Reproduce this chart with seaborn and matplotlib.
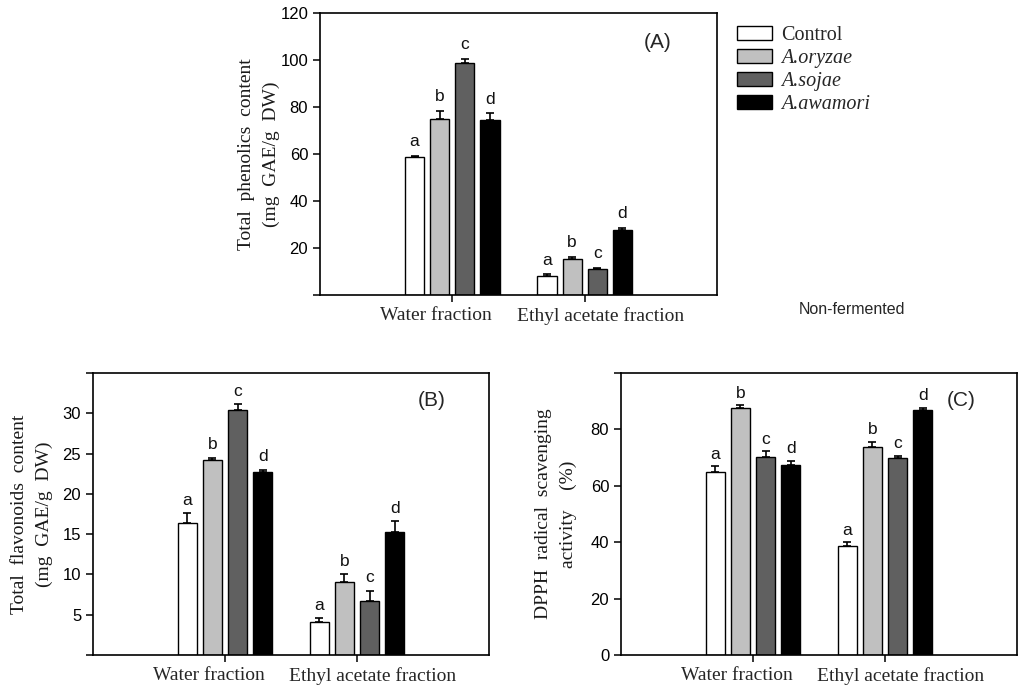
import matplotlib
matplotlib.use("Agg")
import matplotlib.pyplot as plt
from matplotlib.container import BarContainer
import seaborn as sns
import pandas as pd

# ---------------- data ----------------
fractions = ["Water fraction", "Ethyl acetate fraction"]
treatments = ["Control", "A.oryzae", "A.sojae", "A.awamori"]
letters = ["a", "b", "c", "d"]
bar_colors = ["#ffffff", "#c0c0c0", "#606060", "#000000"]

# (A) total phenolics
phen_water = [58.6, 75.0, 98.7, 74.4]
phen_water_err = [0.6, 3.4, 1.7, 2.9]
phen_ethyl = [8.2, 15.2, 11.1, 27.6]
phen_ethyl_err = [0.6, 1.0, 0.5, 1.0]

# (B) total flavonoids
flav_water = [16.4, 24.2, 30.4, 22.7]
flav_water_err = [1.2, 0.3, 0.7, 0.3]
flav_ethyl = [4.1, 9.0, 6.7, 15.3]
flav_ethyl_err = [0.5, 1.0, 1.3, 1.3]

# (C) DPPH
dpph_water = [64.9, 87.7, 70.3, 67.4]
dpph_water_err = [2.0, 0.9, 1.9, 1.4]
dpph_ethyl = [38.5, 73.9, 69.7, 86.8]
dpph_ethyl_err = [1.5, 1.6, 0.9, 0.9]

# ---------------- style ----------------
sns.set_style("ticks")
plt.rcParams["font.family"] = ["Liberation Sans", "DejaVu Sans"]
SERIF = ["Liberation Serif", "DejaVu Serif"]

fig = plt.figure(figsize=(10.24, 6.90), dpi=100)
W, H = 1024, 690


def add_axes(l, t, r, b):
    return fig.add_axes([l / W, 1 - b / H, (r - l) / W, (b - t) / H])


def make_df(water, ethyl):
    rows = []
    for f, vals in zip(fractions, [water, ethyl]):
        for t, v in zip(treatments, vals):
            rows.append({"fraction": f, "treatment": t, "value": v})
    return pd.DataFrame(rows)


def panel(ax, water, water_err, ethyl, ethyl_err, ymax, yticks, ylabels,
          ylabel, tag, tagpos, lab_x, letter_off, legend=False):
    df = make_df(water, ethyl)
    sns.barplot(data=df, x="fraction", y="value", hue="treatment",
                order=fractions, hue_order=treatments,
                palette=bar_colors, saturation=1, edgecolor="black",
                linewidth=1.0, width=0.76, gap=0.24, errorbar=None,
                legend=legend, ax=ax)
    errs = [water_err, ethyl_err]
    conts = [c for c in ax.containers if isinstance(c, BarContainer)]
    for hi, cont in enumerate(conts):
        for bar in list(cont):
            xc = bar.get_x() + bar.get_width() / 2
            fi = int(round(xc))
            h = bar.get_height()
            e = errs[fi][hi]
            ax.errorbar(xc, h, yerr=[[0], [e]], fmt="none", ecolor="black",
                        elinewidth=1.2, capsize=3.2, capthick=1.2, zorder=3)
            ax.annotate(letters[hi], (xc, h + e), xytext=(0, letter_off),
                        textcoords="offset points", ha="center",
                        va="baseline", fontsize=12.5, color="#111111")
    ax.set_xlim(-1, 2)
    ax.set_ylim(0, ymax)
    ax.set_yticks(yticks)
    ax.set_yticklabels(ylabels, fontsize=12)
    ax.set_xticks([0, 1])
    ax.set_xticklabels(["", ""])
    # category labels, shifted apart as in the original figure
    for i, (name, dx) in enumerate(zip(fractions, [-11.5, 11.5])):
        ax.annotate(name, xy=(i, 0), xycoords=("data", "axes fraction"),
                    xytext=(dx, -8.6), textcoords="offset points",
                    ha="center", va="top", family=SERIF, fontsize=14)
    ax.set_xlabel("")
    ax.set_ylabel(ylabel, family=SERIF, fontsize=14, linespacing=1.6,
                  color="#1a1a1a")
    ax.yaxis.set_label_coords(lab_x, 0.5)
    ax.tick_params(direction="out", length=5, width=1.1, colors="black")
    for s in ax.spines.values():
        s.set_visible(True)
        s.set_linewidth(1.2)
        s.set_color("black")
    ax.text(tagpos[0], tagpos[1], tag, transform=ax.transAxes, ha="center",
            va="center", fontsize=15, family=["Liberation Sans"])


axA = add_axes(320, 13, 717, 295)
axB = add_axes(93, 373, 489, 655)
axC = add_axes(621, 373, 1017, 655)

panel(axA, phen_water, phen_water_err, phen_ethyl, phen_ethyl_err, 120,
      [0, 20, 40, 60, 80, 100, 120], ["", "20", "40", "60", "80", "100", "120"],
      "Total  phenolics  content\n(mg  GAE/g  DW)", "(A)", (0.851, 0.894),
      -0.10, 7, legend=True)
panel(axB, flav_water, flav_water_err, flav_ethyl, flav_ethyl_err, 35,
      [0, 5, 10, 15, 20, 25, 30, 35], ["", "5", "10", "15", "20", "25", "30", ""],
      "Total  flavonoids  content\n(mg  GAE/g  DW)", "(B)", (0.856, 0.904),
      -0.10, 6)
panel(axC, dpph_water, dpph_water_err, dpph_ethyl, dpph_ethyl_err, 100,
      [0, 20, 40, 60, 80, 100], ["0", "20", "40", "60", "80", ""],
      "DPPH  radical  scavenging\nactivity    (%)", "(C)", (0.859, 0.904),
      -0.11, 5.5)

# legend placed at the right of panel A
sns.move_legend(axA, loc="upper left", bbox_to_anchor=(737 / W, 1 - 26 / H),
                bbox_transform=fig.transFigure, frameon=False, title=None,
                prop={"family": SERIF, "size": 14.5}, handlelength=1.75,
                handleheight=0.65, handletextpad=0.45, labelspacing=0.2,
                borderpad=0, borderaxespad=0)
leg = axA.get_legend()
for i, txt in enumerate(leg.get_texts()):
    if i > 0:
        txt.set_style("italic")
for hnd in leg.legend_handles:
    hnd.set_edgecolor("black")
    hnd.set_linewidth(1.0)

fig.text(852 / W, 1 - 310 / H, "Non-fermented", ha="center", va="center",
         fontsize=11.5)

fig.savefig("out.png", dpi=100)
